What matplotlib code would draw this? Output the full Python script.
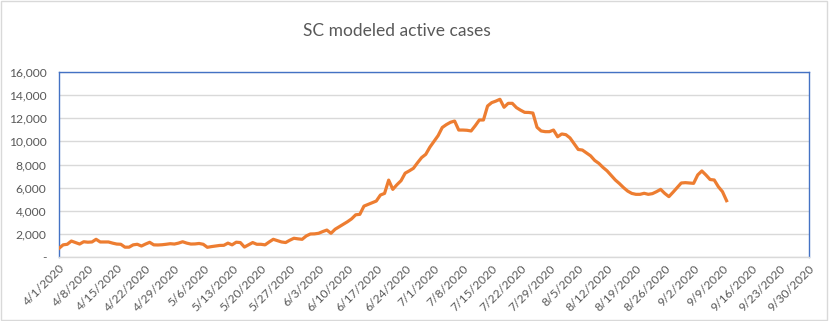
import matplotlib
matplotlib.use("Agg")
import matplotlib.pyplot as plt
import matplotlib.dates as mdates
from matplotlib.ticker import FuncFormatter, FixedLocator
import pandas as pd
import numpy as np

start_date = "2020-04-01"
active_cases = [
    750, 1050, 1100, 1380, 1250, 1120, 1320, 1280, 1300, 1530,
    1300, 1300, 1300, 1200, 1120, 1100, 850, 850, 1050, 1100,
    950, 1120, 1270, 1050, 1040, 1060, 1100, 1150, 1120, 1200,
    1320, 1200, 1120, 1130, 1170, 1100, 840, 900, 950, 1000,
    1010, 1200, 1050, 1280, 1250, 860, 1050, 1250, 1100, 1100,
    1050, 1300, 1530, 1420, 1300, 1250, 1450, 1620, 1570, 1530,
    1820, 1990, 2000, 2050, 2200, 2330, 2050, 2400, 2620, 2850,
    3050, 3300, 3650, 3690, 4400, 4550, 4700, 4840, 5360, 5500,
    6650, 5850, 6250, 6600, 7250, 7450, 7670, 8150, 8600, 8880,
    9500, 10000, 10500, 11200, 11450, 11650, 11760, 10980, 10980, 10960,
    10900, 11350, 11850, 11850, 13060, 13350, 13480, 13640, 12950, 13290,
    13290, 12920, 12700, 12510, 12500, 12450, 11220, 10900, 10840, 10840,
    10980, 10400, 10640, 10580, 10300, 9800, 9300, 9250, 9000, 8750,
    8350, 8100, 7750, 7450, 7050, 6660, 6350, 6000, 5700, 5500,
    5420, 5420, 5510, 5420, 5480, 5650, 5850, 5500, 5220, 5600,
    6000, 6400, 6430, 6400, 6370, 7100, 7440, 7090, 6700, 6660,
    6080, 5650, 4870,
]
tick_dates = pd.date_range("2020-04-01", "2020-09-30", freq="7D")
y_ticks = [0, 2000, 4000, 6000, 8000, 10000, 12000, 14000, 16000]
title = "SC modeled active cases"

dates = pd.date_range(start_date, periods=len(active_cases), freq="D")

plt.rcParams['font.family'] = ['Lato', 'DejaVu Sans']
txt = "#595959"
grid = "#d9d9d9"
blue = "#4472C4"
orange = "#ED7D31"

fig = plt.figure(figsize=(8.33, 3.21), dpi=100)
fig.patch.set_facecolor("white")
ax = fig.add_axes([59/833, 1-257/321, (809-59)/833, (257-72)/321])

ax.plot(dates, active_cases, color=orange, lw=2.3, solid_joinstyle="round", zorder=3)

ax.set_xlim(pd.Timestamp("2020-04-01"), pd.Timestamp("2020-09-30"))
ax.set_ylim(0, 16000)
ax.xaxis.set_major_locator(FixedLocator(mdates.date2num(tick_dates)))
ax.xaxis.set_major_formatter(FuncFormatter(
    lambda v, p: (lambda d: f"{d.month}/{d.day}/{d.year}")(mdates.num2date(v))))
ax.set_yticks(y_ticks)
ax.yaxis.set_major_formatter(FuncFormatter(lambda v, p: "-" if v == 0 else f"{int(v):,}"))

ax.grid(axis="y", color=grid, lw=1)
ax.set_axisbelow(True)
ax.tick_params(axis="both", length=0, colors=txt, labelsize=8.7)
ax.tick_params(axis="y", pad=9)
ax.tick_params(axis="x", pad=4)
for lab in ax.get_xticklabels():
    lab.set_rotation(45)
    lab.set_ha("right")
    lab.set_va("top")
    lab.set_rotation_mode("anchor")

for s in ["left", "top", "right"]:
    ax.spines[s].set_color(blue)
    ax.spines[s].set_linewidth(1)
ax.spines["bottom"].set_color(grid)
ax.spines["bottom"].set_linewidth(1)

fig.text(397/833, 1-31/321, title, ha="center", va="center", fontsize=12.5, color=txt)

border = plt.Rectangle((0.001, 0.002), 0.992, 0.995, transform=fig.transFigure,
                       fill=False, edgecolor=grid, lw=1)
fig.add_artist(border)

fig.savefig("out.png", dpi=100, facecolor="white")
